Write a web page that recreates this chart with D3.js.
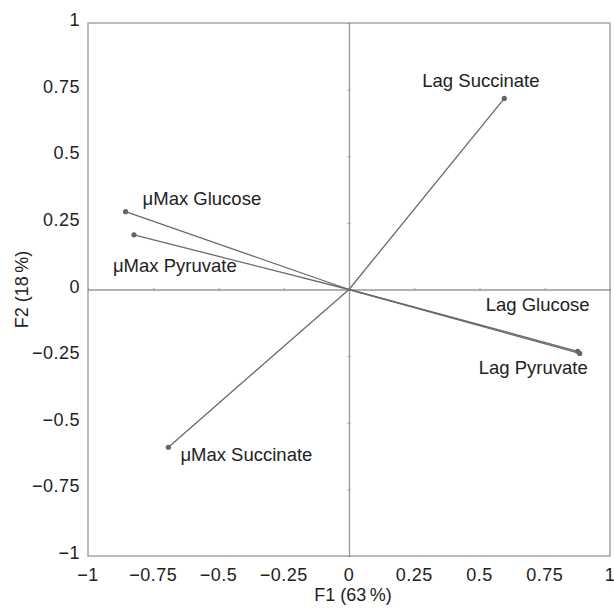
<!DOCTYPE html>
<html>
<head>
<meta charset="utf-8">
<script src="https://cdn.jsdelivr.net/npm/d3@7"></script>
<style>
  body { margin: 0; background: #fff; }
  svg text { font-family: "Liberation Sans", Arial, sans-serif; fill: #222; }
</style>
</head>
<body>
<svg id="chart" width="614" height="608"></svg>
<script>
// loadings on F1 / F2
var names = ["Lag Succinate", "μMax Glucose", "μMax Pyruvate", "μMax Succinate", "Lag Glucose", "Lag Pyruvate"];
var f1 = [0.595, -0.856, -0.824, -0.692, 0.876, 0.884];
var f2 = [0.717, 0.292, 0.205, -0.592, -0.232, -0.240];
var ticks = [-1, -0.75, -0.5, -0.25, 0, 0.25, 0.5, 0.75, 1];
var xTitle = "F1 (63\u2009%)";
var yTitle = "F2 (18\u2009%)";

var svg = d3.select("#chart");
// note: "top" is taken by window.top, so use plot* names
var plotL = 88, plotR = 610, plotT = 23, plotB = 556;

var x = d3.scaleLinear().domain([-1, 1]).range([plotL, plotR]);
var y = d3.scaleLinear().domain([-1, 1]).range([plotB, plotT]);

var fmt = function(d) { return d === 0 ? "0" : d3.format("")(d).replace("-", "\u2212"); };

// frame
svg.append("rect")
  .attr("x", plotL).attr("y", plotT)
  .attr("width", plotR - plotL).attr("height", plotB - plotT)
  .attr("fill", "none").attr("stroke", "#999").attr("stroke-width", 1.3);

// axis lines through origin
var xAxis = d3.axisBottom(x).tickValues(ticks).tickSizeInner(3).tickSizeOuter(0).tickFormat("");
var yAxis = d3.axisLeft(y).tickValues(ticks).tickSizeInner(3).tickSizeOuter(0).tickFormat("");

var gx = svg.append("g").attr("transform", "translate(0," + y(0) + ")").call(xAxis);
var gy = svg.append("g").attr("transform", "translate(" + x(0) + ",0)").call(yAxis);
[gx, gy].forEach(function(g) {
  g.selectAll("path").attr("stroke", "#999").attr("stroke-width", 1.3);
  g.selectAll("line").attr("stroke", "#999");
  g.selectAll(".tick line").attr("transform", g === gx ? "translate(0,-1.5)" : "translate(1.5,0)");
});

// tick labels around the frame
svg.append("g").selectAll("text").data(ticks).join("text")
  .attr("x", function(d) { return x(d); })
  .attr("y", plotB + 25)
  .attr("text-anchor", "middle")
  .attr("font-size", 18).attr("letter-spacing", 0.5)
  .text(fmt);

svg.append("g").selectAll("text").data(ticks).join("text")
  .attr("x", plotL - 8)
  .attr("y", function(d) { return y(d) + 3; })
  .attr("text-anchor", "end")
  .attr("font-size", 18).attr("letter-spacing", 0.5)
  .text(fmt);

// axis titles
svg.append("text")
  .attr("x", x(0) + 4).attr("y", 601)
  .attr("text-anchor", "middle").attr("font-size", 18)
  .text(xTitle);
svg.append("text")
  .attr("transform", "translate(28," + y(0) + ") rotate(-90)")
  .attr("text-anchor", "middle").attr("font-size", 18)
  .text(yTitle);

// vectors
var idx = d3.range(names.length);
svg.append("g").selectAll("line").data(idx).join("line")
  .attr("x1", x(0)).attr("y1", y(0))
  .attr("x2", function(i) { return x(f1[i]); })
  .attr("y2", function(i) { return y(f2[i]); })
  .attr("stroke", "#6a6a6a").attr("stroke-width", 1.3);

svg.append("g").selectAll("circle").data(idx).join("circle")
  .attr("cx", function(i) { return x(f1[i]); })
  .attr("cy", function(i) { return y(f2[i]); })
  .attr("r", 2.6).attr("fill", "#666");

// label placement relative to the point (px)
var labelDx = [-82, 17, -21, 12, -92, -101];
var labelDy = [-11, -7, 37, 14, -40, 21];

svg.append("g").selectAll("text").data(idx).join("text")
  .attr("x", function(i) { return x(f1[i]) + labelDx[i]; })
  .attr("y", function(i) { return y(f2[i]) + labelDy[i]; })
  .attr("font-size", 18.5)
  .text(function(i) { return names[i]; });
</script>
</body>
</html>
